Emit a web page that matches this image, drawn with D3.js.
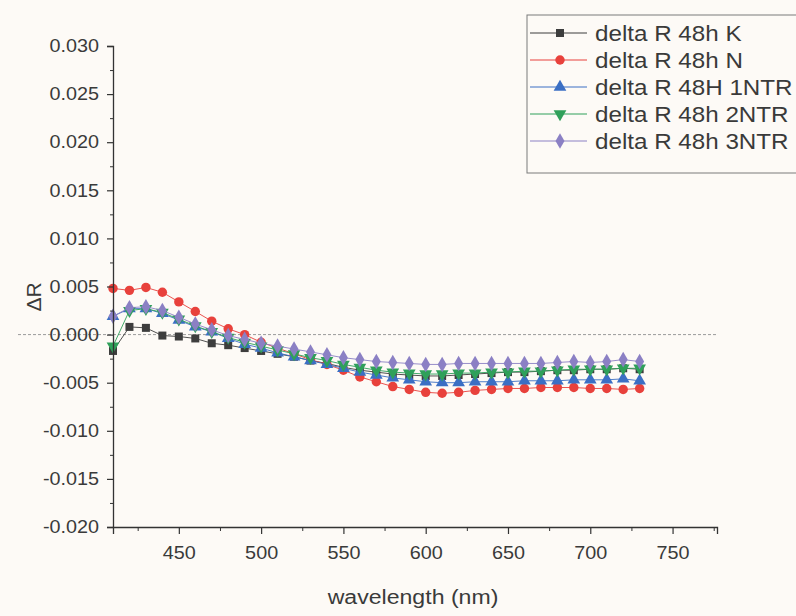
<!DOCTYPE html>
<html>
<head>
<meta charset="utf-8">
<script src="https://cdn.jsdelivr.net/npm/d3@7/dist/d3.min.js"></script>
<style>
  body { margin: 0; background: #fdfaf6; }
  svg { display: block; font-family: "Liberation Sans", Arial, sans-serif; }
</style>
</head>
<body>
<svg class="chart" width="796" height="616"></svg>
<script>
// wavelength in nm, one value per point
var wavelengths = [410, 420, 430, 440, 450, 460, 470, 480, 490, 500, 510, 520, 530, 540, 550, 560, 570,
  580, 590, 600, 610, 620, 630, 640, 650, 660, 670, 680, 690, 700, 710, 720, 730];

var deltaK = [-0.0017, 0.0008, 0.0007, -0.0001, -0.0002, -0.0004, -0.0009, -0.0011, -0.0014, -0.0017, -0.0020,
  -0.0023, -0.0027, -0.0030, -0.0034, -0.0037, -0.0039, -0.0041, -0.0042, -0.0043, -0.0043, -0.0042, -0.0041,
  -0.0040, -0.0039, -0.0039, -0.0038, -0.0037, -0.0037, -0.0036, -0.0036, -0.0035, -0.0036];
var deltaN = [0.0048, 0.0046, 0.0049, 0.0044, 0.0034, 0.0024, 0.0014, 0.0006, 0.0000, -0.0008, -0.0014,
  -0.0020, -0.0026, -0.0031, -0.0037, -0.0044, -0.0049, -0.0054, -0.0057, -0.0060, -0.0061, -0.0060, -0.0058,
  -0.0057, -0.0056, -0.0056, -0.0055, -0.0055, -0.0055, -0.0056, -0.0056, -0.0057, -0.0056];
var delta1NTR = [0.0019, 0.0027, 0.0027, 0.0022, 0.0015, 0.0008, 0.0003, -0.0004, -0.0010, -0.0014, -0.0019,
  -0.0023, -0.0027, -0.0031, -0.0035, -0.0039, -0.0042, -0.0045, -0.0047, -0.0049, -0.0050, -0.0050, -0.0049,
  -0.0049, -0.0049, -0.0048, -0.0048, -0.0048, -0.0047, -0.0047, -0.0047, -0.0046, -0.0048];
var delta2NTR = [-0.0012, 0.0025, 0.0027, 0.0023, 0.0016, 0.0009, 0.0003, -0.0003, -0.0008, -0.0012, -0.0016,
  -0.0020, -0.0024, -0.0027, -0.0031, -0.0034, -0.0037, -0.0039, -0.0040, -0.0041, -0.0041, -0.0040, -0.0040,
  -0.0039, -0.0039, -0.0038, -0.0038, -0.0037, -0.0036, -0.0036, -0.0036, -0.0035, -0.0035];
var delta3NTR = [0.0019, 0.0028, 0.0029, 0.0025, 0.0018, 0.0011, 0.0005, -0.0001, -0.0005, -0.0009, -0.0012,
  -0.0015, -0.0018, -0.0021, -0.0024, -0.0026, -0.0028, -0.0029, -0.0030, -0.0031, -0.0031, -0.0030, -0.0030,
  -0.0030, -0.0030, -0.0030, -0.0030, -0.0029, -0.0028, -0.0029, -0.0028, -0.0026, -0.0028];

var seriesNames = ['delta R 48h K', 'delta R 48h N', 'delta R 48H 1NTR', 'delta R 48h 2NTR', 'delta R 48h 3NTR'];
var seriesValues = [deltaK, deltaN, delta1NTR, delta2NTR, delta3NTR];

var xTicks = [450, 500, 550, 600, 650, 700, 750];
var xMinorTicks = [425, 475, 525, 575, 625, 675, 725, 775];
var yTicks = [0.030, 0.025, 0.020, 0.015, 0.010, 0.005, 0.000, -0.005, -0.010, -0.015, -0.020];
var yMinorTicks = [0.0275, 0.0225, 0.0175, 0.0125, 0.0075, 0.0025, -0.0025, -0.0075, -0.0125, -0.0175];

var colors = ['#3d3d3d', '#e8413c', '#3b6fc4', '#2fa05a', '#8b80c4'];
var shapes = [d3.symbolSquare, d3.symbolCircle, d3.symbolTriangle, d3.symbolTriangle, d3.symbolDiamond];
var stretch = 1.1;

var svg = d3.select('.chart');

var x = d3.scaleLinear().domain([410, 777]).range([113, 717]);
var y = d3.scaleLinear().domain([-0.020, 0.030]).range([527, 46]);

// zero reference line, runs through the tick label like the original
svg.append('line')
  .attr('x1', 18).attr('x2', 717)
  .attr('y1', y(0)).attr('y2', y(0))
  .attr('stroke', '#9a9a9a')
  .attr('stroke-dasharray', '3,2');

function marker(i) {
  var sym = d3.symbol().type(shapes[i]).size(i === 0 ? 64 : 70);
  return sym();
}

seriesValues.forEach(function(vals, i) {
  var pts = wavelengths.map(function(w, j) { return [w, vals[j]]; });
  var g = svg.append('g');
  g.append('path')
    .attr('d', d3.line().x(function(d) { return x(d[0]); }).y(function(d) { return y(d[1]); })(pts))
    .attr('fill', 'none')
    .attr('stroke', colors[i])
    .attr('stroke-width', 0.9);
  g.selectAll('path.pt')
    .data(pts)
    .enter().append('path')
    .attr('class', 'pt')
    .attr('d', marker(i))
    .attr('transform', function(d) {
      return 'translate(' + x(d[0]) + ',' + y(d[1]) + ')' + (i === 3 ? ' rotate(180)' : '');
    })
    .attr('fill', colors[i]);
});

function styleAxis(g) {
  g.select('.domain').attr('stroke', '#333').attr('stroke-width', 1.3);
  g.selectAll('.tick line').attr('stroke', '#333').attr('stroke-width', 1.2);
  g.selectAll('text').attr('fill', '#3a3a3a').attr('font-size', 18);
}

var yAxis = svg.append('g')
  .attr('transform', 'translate(113,0)')
  .call(d3.axisLeft(y).tickValues(yTicks).tickSize(6).tickPadding(8)
    .tickFormat(function(d) { return d.toFixed(3); }));
styleAxis(yAxis);
yAxis.selectAll('text').each(function() {
  var tx = +this.getAttribute('x');
  d3.select(this).attr('x', 0).attr('transform', 'translate(' + tx + ',0) scale(' + stretch + ',1)');
});
svg.append('g')
  .attr('transform', 'translate(113,0)')
  .call(d3.axisLeft(y).tickValues(yMinorTicks).tickSize(3).tickFormat(''))
  .call(function(g) { g.select('.domain').remove(); g.selectAll('line').attr('stroke', '#333'); });

var xAxis = svg.append('g')
  .attr('transform', 'translate(0,527)')
  .call(d3.axisBottom(x).tickValues(xTicks).tickSize(7).tickPadding(12));
styleAxis(xAxis);
xAxis.selectAll('text').attr('transform', 'scale(' + stretch + ',1)');
svg.append('g')
  .attr('transform', 'translate(0,527)')
  .call(d3.axisBottom(x).tickValues(xMinorTicks.filter(function(v) { return v < 777; })).tickSize(4).tickFormat(''))
  .call(function(g) { g.select('.domain').remove(); g.selectAll('line').attr('stroke', '#333'); });

// axis titles
svg.append('text')
  .attr('transform', 'translate(413,604) scale(' + stretch + ',1)')
  .attr('text-anchor', 'middle')
  .attr('font-size', 21)
  .attr('fill', '#3a3a3a')
  .text('wavelength (nm)');

svg.append('text')
  .attr('transform', 'translate(41,297) rotate(-90)')
  .attr('text-anchor', 'middle')
  .attr('font-size', 21)
  .attr('fill', '#3a3a3a')
  .text('ΔR');

// legend
var legend = svg.append('g').attr('transform', 'translate(527,15)');
legend.append('rect')
  .attr('width', 290).attr('height', 158)
  .attr('fill', '#fdfaf6')
  .attr('stroke', '#7a7a7a');
seriesNames.forEach(function(name, i) {
  var ly = 18 + i * 27;
  var row = legend.append('g').attr('transform', 'translate(0,' + ly + ')');
  row.append('line').attr('x1', 3).attr('x2', 60).attr('stroke', colors[i]);
  row.append('path')
    .attr('d', marker(i))
    .attr('transform', 'translate(33,0)' + (i === 3 ? ' rotate(180)' : ''))
    .attr('fill', colors[i]);
  row.append('text')
    .attr('transform', 'translate(68,8) scale(' + stretch + ',1)')
    .attr('font-size', 22)
    .attr('fill', '#3a3a3a')
    .text(name);
});
</script>
</body>
</html>
